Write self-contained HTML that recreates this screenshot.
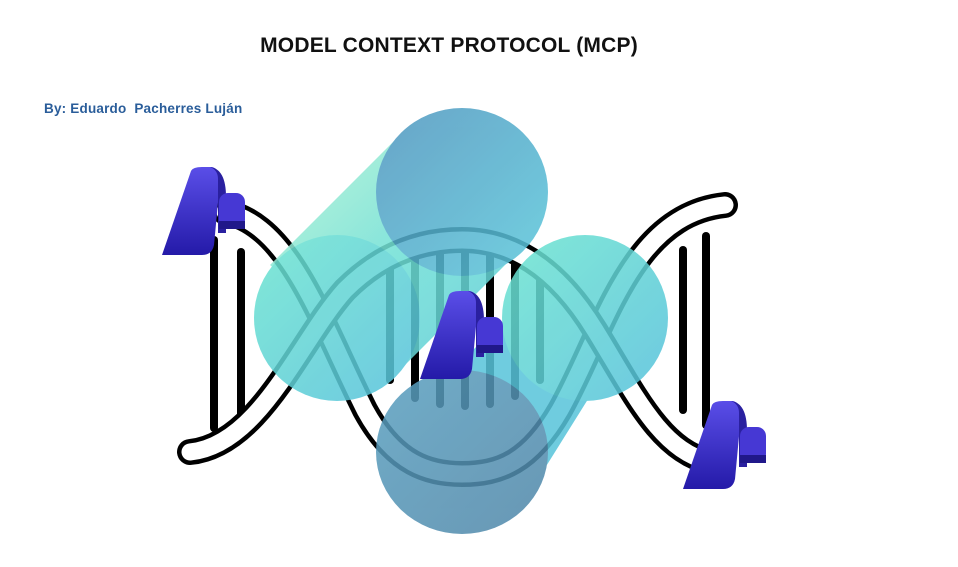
<!DOCTYPE html>
<html><head><meta charset="utf-8"><style>
html,body{margin:0;padding:0;background:#fff;}
body{width:958px;height:567px;position:relative;overflow:hidden;font-family:"Liberation Sans",sans-serif;}
.t{position:absolute;left:0;width:898px;top:34px;text-align:center;font-weight:bold;font-size:21px;color:#111;letter-spacing:0.2px;}
.s{position:absolute;left:44px;top:101px;font-weight:bold;font-size:13.5px;color:#2a5d9a;letter-spacing:0.2px;}
svg{position:absolute;left:0;top:0;}
</style></head><body>
<div class="t">MODEL CONTEXT PROTOCOL (MCP)</div>
<div class="s">By: Eduardo&nbsp; Pacherres Luján</div>
<svg width="958" height="567" viewBox="0 0 958 567">
<defs>
<linearGradient id="g1" x1="0" y1="0" x2="1" y2="1"><stop offset="0" stop-color="#b8f4d4"/><stop offset="0.5" stop-color="#6fe0d6"/><stop offset="1" stop-color="#5cc9d8"/></linearGradient>
<linearGradient id="g2" x1="0" y1="0" x2="1" y2="1"><stop offset="0" stop-color="#4f95be"/><stop offset="1" stop-color="#5bc9dc"/></linearGradient>
<linearGradient id="g3" x1="0" y1="0" x2="1" y2="1"><stop offset="0" stop-color="#5aa0c0"/><stop offset="1" stop-color="#4f86a8"/></linearGradient>
<linearGradient id="g4" x1="0" y1="0" x2="1" y2="1"><stop offset="0" stop-color="#6de6d0"/><stop offset="1" stop-color="#55c0dc"/></linearGradient>
<linearGradient id="rb" x1="0" y1="0" x2="0" y2="1"><stop offset="0" stop-color="#5a4ee8"/><stop offset="1" stop-color="#241aa8"/></linearGradient>
<g id="ic">
<path d="M0,88 L29,4 Q31,0 40,0 L50,0 Q58,2 58,14 L52,78 Q50,88 40,88 Z" fill="url(#rb)"/>
<path d="M48,0 Q64,2 64,30 L64,66 L56,66 L56,12 Q56,3 48,0 Z" fill="#2a20a0"/>
<rect x="57" y="26" width="26" height="36" rx="9" fill="#4638d4"/>
<rect x="57" y="54" width="26" height="8" fill="#20188a"/>
</g>
</defs>
<g fill="none" stroke-linecap="round">
<g stroke="#000" stroke-width="8">
<line x1="214" y1="240" x2="214" y2="428"/><line x1="241" y1="252" x2="241" y2="418"/>
<line x1="683" y1="250" x2="683" y2="410"/><line x1="706" y1="236" x2="706" y2="425"/>
<line x1="390" y1="265" x2="390" y2="380"/><line x1="415" y1="252" x2="415" y2="398"/><line x1="440" y1="246" x2="440" y2="404"/><line x1="465" y1="244" x2="465" y2="406"/><line x1="490" y1="248" x2="490" y2="404"/><line x1="515" y1="255" x2="515" y2="396"/><line x1="540" y1="266" x2="540" y2="380"/>
</g>
<path d="M225 212 C290 225 320 320 365 410 C395 465 430 474 462 474 C500 474 530 462 560 410 C605 330 630 215 725 205" stroke="#000" stroke-width="26"/>
<path d="M225 212 C290 225 320 320 365 410 C395 465 430 474 462 474 C500 474 530 462 560 410 C605 330 630 215 725 205" stroke="#fff" stroke-width="17"/>
<path d="M190 452 C260 445 300 340 345 290 C380 255 420 240 462 240 C510 240 555 265 595 330 C635 395 660 450 710 462" stroke="#000" stroke-width="26"/>
<path d="M190 452 C260 445 300 340 345 290 C380 255 420 240 462 240 C510 240 555 265 595 330 C635 395 660 450 710 462" stroke="#fff" stroke-width="17"/>
</g>
<g opacity="0.86">
<path d="M400 135 L525 245 L395 375 L270 265 Z" fill="url(#g1)"/>
<circle cx="337" cy="318" r="83" fill="url(#g4)"/>
<path d="M525 300 L650 300 L525 500 L400 420 Z" fill="#58c4da"/>
<circle cx="585" cy="318" r="83" fill="url(#g4)"/>
<ellipse cx="462" cy="192" rx="86" ry="84" fill="url(#g2)"/>
<ellipse cx="462" cy="452" rx="86" ry="82" fill="url(#g3)"/>
</g>
<use href="#ic" x="162" y="167"/>
<use href="#ic" x="420" y="291"/>
<use href="#ic" x="683" y="401"/>
</svg>
</body></html>
